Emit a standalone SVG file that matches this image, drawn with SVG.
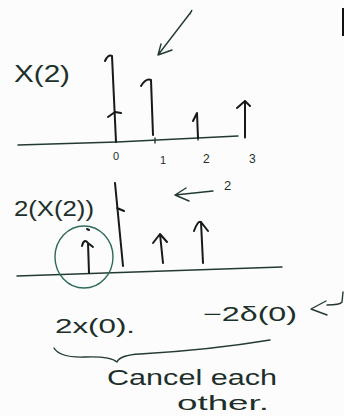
<svg xmlns="http://www.w3.org/2000/svg" width="344" height="416" viewBox="0 0 344 416">
<style>
.ink{fill:none;stroke:#151a18;stroke-width:2;stroke-linecap:round;stroke-linejoin:round}
.thin{fill:none;stroke:#233a33;stroke-width:1.4;stroke-linecap:round;stroke-linejoin:round}
.grn{fill:none;stroke:#2f6b5c;stroke-width:1.4}
.t{font-family:"Liberation Sans","DejaVu Sans",sans-serif;fill:#1d2f2a}
</style>
<rect width="344" height="416" fill="#fbfcfb"/>
<!-- top pointer arrow -->
<path class="thin" d="M190,14 Q193,8 191,12 L158,55 M158,55 L161,44 M158,55 L172,50"/>
<!-- right edge mark -->
<path d="M343,8 L343,36" stroke="#111" stroke-width="2"/>
<!-- plot 1 -->
<text class="t" x="14" y="82" font-size="24" textLength="56" lengthAdjust="spacingAndGlyphs">X(2)</text>
<path class="thin" d="M18,145 L117,142 L238,136"/>
<path class="thin" d="M155,138 L155,143 M198,136 L198,140 M245,134 L245,138"/>
<path class="ink" d="M116,142 L112,56 M105,61 Q108,54 112,56"/>
<path class="ink" d="M115,112 L108,117 M115,112 L121,113"/>
<path class="ink" d="M153,135 L151,80 M141,86 Q146,78 151,80"/>
<path class="ink" d="M198,138 L197,113 L193,121"/>
<path class="ink" d="M245,137 L245,101 M237,108 L245,101 L250,106"/>
<text class="t" x="113" y="160" font-size="11">0</text>
<text class="t" x="160" y="164" font-size="11">1</text>
<text class="t" x="203" y="163" font-size="12">2</text>
<text class="t" x="249" y="163" font-size="12">3</text>
<!-- plot 2 -->
<text class="t" x="14" y="216" font-size="22" textLength="80" lengthAdjust="spacingAndGlyphs">2(X(2))</text>
<path class="thin" d="M175,195 L213,191 M175,195 L186,188 M175,195 L189,201"/>
<text class="t" x="224" y="190" font-size="13">2</text>
<path class="thin" d="M17,276 L282,267"/>
<path class="ink" d="M123,266 L115,183 M117,208 L124,211"/>
<ellipse class="grn" cx="84" cy="257" rx="29" ry="31"/>
<path class="ink" d="M89,273 L88,243 Q84,238 82,246 M88,243 L93,247 M87,229 L89,230"/>
<path class="ink" d="M163,263 L160,234 M153,243 L160,234 L167,242"/>
<path class="ink" d="M203,263 L201,222 M194,231 Q198,220 201,222 L208,231"/>
<!-- bottom -->
<text class="t" x="55" y="333" font-size="20" textLength="80" lengthAdjust="spacingAndGlyphs">2x(0).</text>
<text class="t" x="203" y="321" font-size="20" textLength="94" lengthAdjust="spacingAndGlyphs">−2δ(0)</text>
<path class="thin" d="M326,301 L311,309 L327,315 M327,305 Q340,305 342,302 L343,292"/>
<path class="thin" d="M54,348 Q60,358 85,357 Q110,356 117,362 Q120,355 140,354 Q210,350 270,340"/>
<text class="t" x="107" y="385" font-size="22" textLength="170" lengthAdjust="spacingAndGlyphs">Cancel each</text>
<text class="t" x="177" y="410" font-size="20" textLength="92" lengthAdjust="spacingAndGlyphs">other.</text>
</svg>
